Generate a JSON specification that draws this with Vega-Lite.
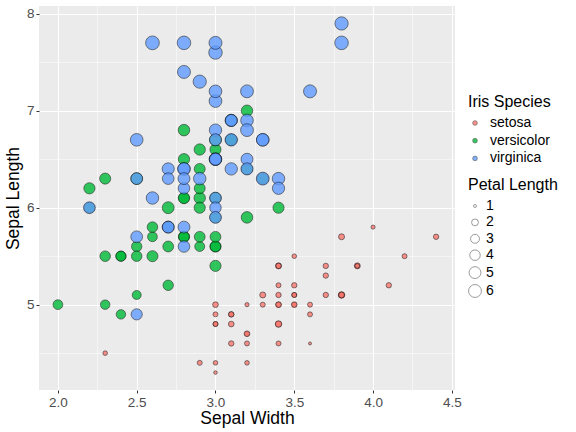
{
  "$schema": "https://vega.github.io/schema/vega-lite/v6.json",
  "width": 416,
  "height": 384,
  "autosize": {"type": "none"},
  "padding": {"left": 39, "top": 6, "right": 121, "bottom": 42},
  "background": "white",
  "config": {
    "font": "Liberation Sans",
    "view": {"fill": "#EBEBEB", "stroke": null},
    "axis": {
      "domain": false,
      "gridColor": "white",
      "tickColor": "#333333",
      "tickSize": 3,
      "labelColor": "#4D4D4D",
      "labelFontSize": 13.5,
      "labelFont": "Liberation Sans",
      "titleFont": "Liberation Sans",
      "titleFontSize": 17.5,
      "titleFontWeight": "normal",
      "titleColor": "black",
      "labelPadding": 2
    },
    "legend": {
      "titleFont": "Liberation Sans",
      "titleFontSize": 16,
      "titleFontWeight": "normal",
      "titleColor": "black",
      "labelFont": "Liberation Sans",
      "labelFontSize": 14,
      "labelColor": "black",
      "padding": 0,
      "titlePadding": 7
    }
  },
  "data": {
    "values": [
      {"sl":5.1,"sw":3.5,"pl":1.4,"species":"setosa"},
      {"sl":4.9,"sw":3.0,"pl":1.4,"species":"setosa"},
      {"sl":4.7,"sw":3.2,"pl":1.3,"species":"setosa"},
      {"sl":4.6,"sw":3.1,"pl":1.5,"species":"setosa"},
      {"sl":5.0,"sw":3.6,"pl":1.4,"species":"setosa"},
      {"sl":5.4,"sw":3.9,"pl":1.7,"species":"setosa"},
      {"sl":4.6,"sw":3.4,"pl":1.4,"species":"setosa"},
      {"sl":5.0,"sw":3.4,"pl":1.5,"species":"setosa"},
      {"sl":4.4,"sw":2.9,"pl":1.4,"species":"setosa"},
      {"sl":4.9,"sw":3.1,"pl":1.5,"species":"setosa"},
      {"sl":5.4,"sw":3.7,"pl":1.5,"species":"setosa"},
      {"sl":4.8,"sw":3.4,"pl":1.6,"species":"setosa"},
      {"sl":4.8,"sw":3.0,"pl":1.4,"species":"setosa"},
      {"sl":4.3,"sw":3.0,"pl":1.1,"species":"setosa"},
      {"sl":5.8,"sw":4.0,"pl":1.2,"species":"setosa"},
      {"sl":5.7,"sw":4.4,"pl":1.5,"species":"setosa"},
      {"sl":5.4,"sw":3.9,"pl":1.3,"species":"setosa"},
      {"sl":5.1,"sw":3.5,"pl":1.4,"species":"setosa"},
      {"sl":5.7,"sw":3.8,"pl":1.7,"species":"setosa"},
      {"sl":5.1,"sw":3.8,"pl":1.5,"species":"setosa"},
      {"sl":5.4,"sw":3.4,"pl":1.7,"species":"setosa"},
      {"sl":5.1,"sw":3.7,"pl":1.5,"species":"setosa"},
      {"sl":4.6,"sw":3.6,"pl":1.0,"species":"setosa"},
      {"sl":5.1,"sw":3.3,"pl":1.7,"species":"setosa"},
      {"sl":4.8,"sw":3.4,"pl":1.9,"species":"setosa"},
      {"sl":5.0,"sw":3.0,"pl":1.6,"species":"setosa"},
      {"sl":5.0,"sw":3.4,"pl":1.6,"species":"setosa"},
      {"sl":5.2,"sw":3.5,"pl":1.5,"species":"setosa"},
      {"sl":5.2,"sw":3.4,"pl":1.4,"species":"setosa"},
      {"sl":4.7,"sw":3.2,"pl":1.6,"species":"setosa"},
      {"sl":4.8,"sw":3.1,"pl":1.6,"species":"setosa"},
      {"sl":5.4,"sw":3.4,"pl":1.5,"species":"setosa"},
      {"sl":5.2,"sw":4.1,"pl":1.5,"species":"setosa"},
      {"sl":5.5,"sw":4.2,"pl":1.4,"species":"setosa"},
      {"sl":4.9,"sw":3.1,"pl":1.5,"species":"setosa"},
      {"sl":5.0,"sw":3.2,"pl":1.2,"species":"setosa"},
      {"sl":5.5,"sw":3.5,"pl":1.3,"species":"setosa"},
      {"sl":4.9,"sw":3.6,"pl":1.4,"species":"setosa"},
      {"sl":4.4,"sw":3.0,"pl":1.3,"species":"setosa"},
      {"sl":5.1,"sw":3.4,"pl":1.5,"species":"setosa"},
      {"sl":5.0,"sw":3.5,"pl":1.3,"species":"setosa"},
      {"sl":4.5,"sw":2.3,"pl":1.3,"species":"setosa"},
      {"sl":4.4,"sw":3.2,"pl":1.3,"species":"setosa"},
      {"sl":5.0,"sw":3.5,"pl":1.6,"species":"setosa"},
      {"sl":5.1,"sw":3.8,"pl":1.9,"species":"setosa"},
      {"sl":4.8,"sw":3.0,"pl":1.4,"species":"setosa"},
      {"sl":5.1,"sw":3.8,"pl":1.6,"species":"setosa"},
      {"sl":4.6,"sw":3.2,"pl":1.4,"species":"setosa"},
      {"sl":5.3,"sw":3.7,"pl":1.5,"species":"setosa"},
      {"sl":5.0,"sw":3.3,"pl":1.4,"species":"setosa"},
      {"sl":7.0,"sw":3.2,"pl":4.7,"species":"versicolor"},
      {"sl":6.4,"sw":3.2,"pl":4.5,"species":"versicolor"},
      {"sl":6.9,"sw":3.1,"pl":4.9,"species":"versicolor"},
      {"sl":5.5,"sw":2.3,"pl":4.0,"species":"versicolor"},
      {"sl":6.5,"sw":2.8,"pl":4.6,"species":"versicolor"},
      {"sl":5.7,"sw":2.8,"pl":4.5,"species":"versicolor"},
      {"sl":6.3,"sw":3.3,"pl":4.7,"species":"versicolor"},
      {"sl":4.9,"sw":2.4,"pl":3.3,"species":"versicolor"},
      {"sl":6.6,"sw":2.9,"pl":4.6,"species":"versicolor"},
      {"sl":5.2,"sw":2.7,"pl":3.9,"species":"versicolor"},
      {"sl":5.0,"sw":2.0,"pl":3.5,"species":"versicolor"},
      {"sl":5.9,"sw":3.0,"pl":4.2,"species":"versicolor"},
      {"sl":6.0,"sw":2.2,"pl":4.0,"species":"versicolor"},
      {"sl":6.1,"sw":2.9,"pl":4.7,"species":"versicolor"},
      {"sl":5.6,"sw":2.9,"pl":3.6,"species":"versicolor"},
      {"sl":6.7,"sw":3.1,"pl":4.4,"species":"versicolor"},
      {"sl":5.6,"sw":3.0,"pl":4.5,"species":"versicolor"},
      {"sl":5.8,"sw":2.7,"pl":4.1,"species":"versicolor"},
      {"sl":6.2,"sw":2.2,"pl":4.5,"species":"versicolor"},
      {"sl":5.6,"sw":2.5,"pl":3.9,"species":"versicolor"},
      {"sl":5.9,"sw":3.2,"pl":4.8,"species":"versicolor"},
      {"sl":6.1,"sw":2.8,"pl":4.0,"species":"versicolor"},
      {"sl":6.3,"sw":2.5,"pl":4.9,"species":"versicolor"},
      {"sl":6.1,"sw":2.8,"pl":4.7,"species":"versicolor"},
      {"sl":6.4,"sw":2.9,"pl":4.3,"species":"versicolor"},
      {"sl":6.6,"sw":3.0,"pl":4.4,"species":"versicolor"},
      {"sl":6.8,"sw":2.8,"pl":4.8,"species":"versicolor"},
      {"sl":6.7,"sw":3.0,"pl":5.0,"species":"versicolor"},
      {"sl":6.0,"sw":2.9,"pl":4.5,"species":"versicolor"},
      {"sl":5.7,"sw":2.6,"pl":3.5,"species":"versicolor"},
      {"sl":5.5,"sw":2.4,"pl":3.8,"species":"versicolor"},
      {"sl":5.5,"sw":2.4,"pl":3.7,"species":"versicolor"},
      {"sl":5.8,"sw":2.7,"pl":3.9,"species":"versicolor"},
      {"sl":6.0,"sw":2.7,"pl":5.1,"species":"versicolor"},
      {"sl":5.4,"sw":3.0,"pl":4.5,"species":"versicolor"},
      {"sl":6.0,"sw":3.4,"pl":4.5,"species":"versicolor"},
      {"sl":6.7,"sw":3.1,"pl":4.7,"species":"versicolor"},
      {"sl":6.3,"sw":2.3,"pl":4.4,"species":"versicolor"},
      {"sl":5.6,"sw":3.0,"pl":4.1,"species":"versicolor"},
      {"sl":5.5,"sw":2.5,"pl":4.0,"species":"versicolor"},
      {"sl":5.5,"sw":2.6,"pl":4.4,"species":"versicolor"},
      {"sl":6.1,"sw":3.0,"pl":4.6,"species":"versicolor"},
      {"sl":5.8,"sw":2.6,"pl":4.0,"species":"versicolor"},
      {"sl":5.0,"sw":2.3,"pl":3.3,"species":"versicolor"},
      {"sl":5.6,"sw":2.7,"pl":4.2,"species":"versicolor"},
      {"sl":5.7,"sw":3.0,"pl":4.2,"species":"versicolor"},
      {"sl":5.7,"sw":2.9,"pl":4.2,"species":"versicolor"},
      {"sl":6.2,"sw":2.9,"pl":4.3,"species":"versicolor"},
      {"sl":5.1,"sw":2.5,"pl":3.0,"species":"versicolor"},
      {"sl":5.7,"sw":2.8,"pl":4.1,"species":"versicolor"},
      {"sl":6.3,"sw":3.3,"pl":6.0,"species":"virginica"},
      {"sl":5.8,"sw":2.7,"pl":5.1,"species":"virginica"},
      {"sl":7.1,"sw":3.0,"pl":5.9,"species":"virginica"},
      {"sl":6.3,"sw":2.9,"pl":5.6,"species":"virginica"},
      {"sl":6.5,"sw":3.0,"pl":5.8,"species":"virginica"},
      {"sl":7.6,"sw":3.0,"pl":6.6,"species":"virginica"},
      {"sl":4.9,"sw":2.5,"pl":4.5,"species":"virginica"},
      {"sl":7.3,"sw":2.9,"pl":6.3,"species":"virginica"},
      {"sl":6.7,"sw":2.5,"pl":5.8,"species":"virginica"},
      {"sl":7.2,"sw":3.6,"pl":6.1,"species":"virginica"},
      {"sl":6.5,"sw":3.2,"pl":5.1,"species":"virginica"},
      {"sl":6.4,"sw":2.7,"pl":5.3,"species":"virginica"},
      {"sl":6.8,"sw":3.0,"pl":5.5,"species":"virginica"},
      {"sl":5.7,"sw":2.5,"pl":5.0,"species":"virginica"},
      {"sl":5.8,"sw":2.8,"pl":5.1,"species":"virginica"},
      {"sl":6.4,"sw":3.2,"pl":5.3,"species":"virginica"},
      {"sl":6.5,"sw":3.0,"pl":5.5,"species":"virginica"},
      {"sl":7.7,"sw":3.8,"pl":6.7,"species":"virginica"},
      {"sl":7.7,"sw":2.6,"pl":6.9,"species":"virginica"},
      {"sl":6.0,"sw":2.2,"pl":5.0,"species":"virginica"},
      {"sl":6.9,"sw":3.2,"pl":5.7,"species":"virginica"},
      {"sl":5.6,"sw":2.8,"pl":4.9,"species":"virginica"},
      {"sl":7.7,"sw":2.8,"pl":6.7,"species":"virginica"},
      {"sl":6.3,"sw":2.7,"pl":4.9,"species":"virginica"},
      {"sl":6.7,"sw":3.3,"pl":5.7,"species":"virginica"},
      {"sl":7.2,"sw":3.2,"pl":6.0,"species":"virginica"},
      {"sl":6.2,"sw":2.8,"pl":4.8,"species":"virginica"},
      {"sl":6.1,"sw":3.0,"pl":4.9,"species":"virginica"},
      {"sl":6.4,"sw":2.8,"pl":5.6,"species":"virginica"},
      {"sl":7.2,"sw":3.0,"pl":5.8,"species":"virginica"},
      {"sl":7.4,"sw":2.8,"pl":6.1,"species":"virginica"},
      {"sl":7.9,"sw":3.8,"pl":6.4,"species":"virginica"},
      {"sl":6.4,"sw":2.8,"pl":5.6,"species":"virginica"},
      {"sl":6.3,"sw":2.8,"pl":5.1,"species":"virginica"},
      {"sl":6.1,"sw":2.6,"pl":5.6,"species":"virginica"},
      {"sl":7.7,"sw":3.0,"pl":6.1,"species":"virginica"},
      {"sl":6.3,"sw":3.4,"pl":5.6,"species":"virginica"},
      {"sl":6.4,"sw":3.1,"pl":5.5,"species":"virginica"},
      {"sl":6.0,"sw":3.0,"pl":4.8,"species":"virginica"},
      {"sl":6.9,"sw":3.1,"pl":5.4,"species":"virginica"},
      {"sl":6.7,"sw":3.1,"pl":5.6,"species":"virginica"},
      {"sl":6.9,"sw":3.1,"pl":5.1,"species":"virginica"},
      {"sl":5.8,"sw":2.7,"pl":5.1,"species":"virginica"},
      {"sl":6.8,"sw":3.2,"pl":5.9,"species":"virginica"},
      {"sl":6.7,"sw":3.3,"pl":5.7,"species":"virginica"},
      {"sl":6.7,"sw":3.0,"pl":5.2,"species":"virginica"},
      {"sl":6.3,"sw":2.5,"pl":5.0,"species":"virginica"},
      {"sl":6.5,"sw":3.0,"pl":5.2,"species":"virginica"},
      {"sl":6.2,"sw":3.4,"pl":5.4,"species":"virginica"},
      {"sl":5.9,"sw":3.0,"pl":5.1,"species":"virginica"}
    ]
  },
  "mark": {"type": "point", "shape": "circle", "filled": true, "stroke": "black", "strokeWidth": 0.6, "opacity": 0.8},
  "encoding": {
    "x": {
      "field": "sw", "type": "quantitative", "title": "Sepal Width",
      "scale": {"domain": [1.88, 4.52], "nice": false, "zero": false},
      "axis": {
        "values": [2, 2.25, 2.5, 2.75, 3, 3.25, 3.5, 3.75, 4, 4.25, 4.5],
        "labelExpr": "datum.value % 0.5 === 0 ? format(datum.value, '.1f') : ''",
        "gridWidth": {"condition": {"test": "datum.value % 0.5 !== 0", "value": 0.5}, "value": 1.1},
        "tickOpacity": {"condition": {"test": "datum.value % 0.5 !== 0", "value": 0}, "value": 1},
        "titlePadding": 1
      }
    },
    "y": {
      "field": "sl", "type": "quantitative", "title": "Sepal Length",
      "scale": {"domain": [4.12, 8.08], "nice": false, "zero": false},
      "axis": {
        "values": [4.5, 5, 5.5, 6, 6.5, 7, 7.5, 8],
        "labelExpr": "datum.value % 1 === 0 ? format(datum.value, 'd') : ''",
        "gridWidth": {"condition": {"test": "datum.value % 1 !== 0", "value": 0.5}, "value": 1.1},
        "tickOpacity": {"condition": {"test": "datum.value % 1 !== 0", "value": 0}, "value": 1},
        "titlePadding": 4
      }
    },
    "fill": {
      "field": "species", "type": "nominal", "title": "Iris Species",
      "scale": {"domain": ["setosa", "versicolor", "virginica"], "range": ["#F8766D", "#00BA38", "#619CFF"]},
      "legend": {"orient": "none", "legendX": 429, "legendY": 88, "titlePadding": 6, "symbolSize": 22, "symbolStrokeColor": "#333333", "symbolStrokeWidth": 0.6, "symbolOpacity": 0.8, "rowPadding": 3.7, "labelOffset": 8}
    },
    "size": {
      "field": "pl", "type": "quantitative", "title": "Petal Length",
      "scale": {"type": "pow", "exponent": 0.75, "domain": [1, 6.9], "range": [9, 190], "zero": false, "nice": false},
      "legend": {"orient": "none", "legendX": 429, "legendY": 171, "titlePadding": 6, "values": [1, 2, 3, 4, 5, 6], "symbolFillColor": "transparent", "symbolStrokeColor": "#333333", "symbolStrokeWidth": 0.6, "rowPadding": 2.4, "labelOffset": 4}
    }
  }
}
